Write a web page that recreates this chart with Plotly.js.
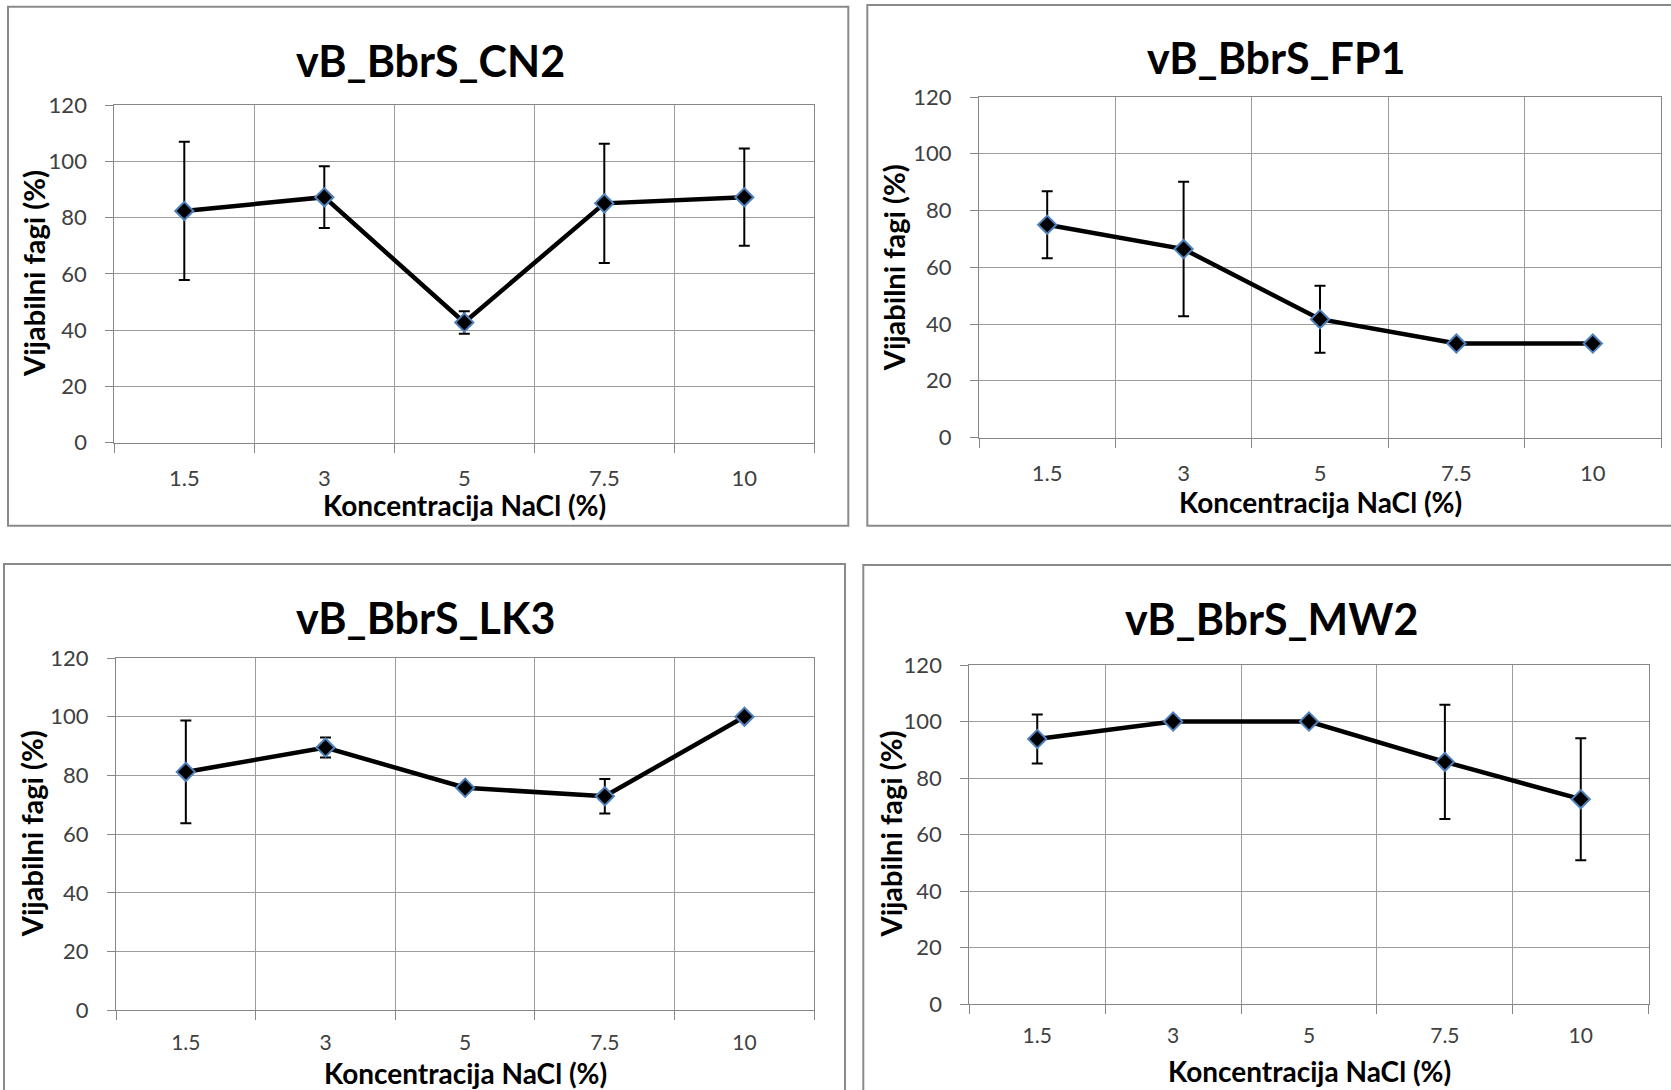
<!DOCTYPE html>
<html><head><meta charset="utf-8">
<script src="https://cdn.plot.ly/plotly-3.0.1.min.js"></script>
<style>html,body{margin:0;padding:0;background:#fff;} #chart{width:1671px;height:1090px;}</style>
</head><body><div id="chart"></div>
<script>
// ---- data ----
const concentrations = ['1.5', '3', '5', '7.5', '10'];
const cn2Values = [82.4, 87.3, 42.7, 85.1, 87.3];
const cn2Errors = [24.6, 11.0, 4.0, 21.2, 17.3];
const fp1Values = [75.0, 66.4, 41.7, 33.1, 33.1];
const fp1Errors = [11.8, 23.7, 11.8, 0, 0];
const lk3Values = [81.2, 89.5, 75.8, 72.9, 100];
const lk3Errors = [17.5, 3.4, 0, 5.9, 0];
const mw2Values = [93.8, 100, 100, 85.7, 72.5];
const mw2Errors = [8.7, 0, 0, 20.2, 21.6];
const chartTitles = ['vB_BbrS_CN2', 'vB_BbrS_FP1', 'vB_BbrS_LK3', 'vB_BbrS_MW2'];
const xAxisTitle = 'Koncentracija NaCl (%)';
const yAxisTitle = 'Vijabilni fagi (%)';
const yTickValues = [0, 20, 40, 60, 80, 100, 120];

const seriesValues = [cn2Values, fp1Values, lk3Values, mw2Values];
const seriesErrors = [cn2Errors, fp1Errors, lk3Errors, mw2Errors];

// ---- layout geometry (pixels) ----
const W = 1671, H = 1090;
const panels = [
  {plot: [114.3, 814.3, 105.3, 442.5], frame: [8, 848.3, 6.7, 525.7], titleX: 430, titleY: 60, xTitleY: 505, yTitleX: 34, tickStand: 16, tickSize: 22},
  {plot: [979, 1661, 97, 437.5], frame: [867.3, 1690, 5, 525.7], titleX: 1276, titleY: 58, xTitleY: 502, yTitleX: 893, tickStand: 16, tickSize: 22},
  {plot: [116, 814.3, 658, 1010.3], frame: [4, 845, 564, 1110], titleX: 425, titleY: 617, xTitleY: 1073, yTitleX: 31, tickStand: 13, tickSize: 21},
  {plot: [969.3, 1648.7, 665, 1004], frame: [863.3, 1690, 565, 1110], titleX: 1271, titleY: 618, xTitleY: 1071, yTitleX: 890, tickStand: 13, tickSize: 21}
];
const px = v => v / W;
const py = v => 1 - v / H;

const FONT = 'Lato, "Open Sans", sans-serif';
const gridDark = '#9c9c9c';
const gridLight = '#d2d2d2';
const axisColor = '#868686';

const traces = [];
const layout = {
  width: W, height: H,
  margin: {l: 0, r: 0, t: 0, b: 0},
  paper_bgcolor: '#ffffff', plot_bgcolor: '#ffffff',
  showlegend: false,
  annotations: [], shapes: []
};

panels.forEach((p, i) => {
  const n = i + 1;
  const xs = n === 1 ? '' : String(n);
  const xName = 'x' + xs, yName = 'y' + xs;
  const xDom = [px(p.plot[0]), px(p.plot[1])];
  const yDom = [py(p.plot[3]), py(p.plot[2])];

  traces.push({
    type: 'scatter', mode: 'lines+markers',
    x: concentrations, y: seriesValues[i],
    xaxis: xName, yaxis: yName,
    line: {color: '#000000', width: 4.5},
    marker: {symbol: 'diamond', size: 14, color: '#000000', line: {color: '#4f81bd', width: 2}},
    error_y: {type: 'data', array: seriesErrors[i], visible: true, color: '#000000', thickness: 2, width: 5.5},
    hoverinfo: 'x+y'
  });

  layout['xaxis' + xs] = {
    domain: xDom, anchor: yName,
    type: 'category', range: [-0.5, 4.5],
    tickson: 'boundaries', ticks: 'outside', ticklen: 9, tickwidth: 1, tickcolor: axisColor,
    showgrid: true, gridcolor: gridDark, gridwidth: 1,
    showline: true, linecolor: axisColor, linewidth: 1, mirror: true,
    zeroline: false,
    tickfont: {family: FONT, size: p.tickSize, color: '#404040'},
    ticklabelstandoff: p.tickStand,
    fixedrange: true
  };
  layout['yaxis' + xs] = {
    domain: yDom, anchor: xName,
    range: [0, 120], tickmode: 'array', tickvals: yTickValues,
    ticks: 'outside', ticklen: 8, tickwidth: 1, tickcolor: axisColor,
    showgrid: true, gridcolor: gridDark, gridwidth: 1,
    showline: true, linecolor: axisColor, linewidth: 1, mirror: true,
    zeroline: false,
    tickfont: {family: FONT, size: 22, color: '#404040'},
    ticklabelstandoff: 14,
    fixedrange: true
  };
  // overlay axis for the gridlines through the category centres
  layout['xaxis' + (n + 4)] = {
    overlaying: xName, anchor: yName,
    type: 'linear', range: [-0.5, 4.5], tick0: 0, dtick: 1,
    showgrid: true, gridcolor: gridLight, gridwidth: 1,
    showticklabels: false, ticks: '', showline: false, zeroline: false,
    fixedrange: true
  };

  layout.shapes.push({
    type: 'rect', xref: 'paper', yref: 'paper', layer: 'below',
    x0: px(p.frame[0]), x1: px(p.frame[1]), y0: py(p.frame[3]), y1: py(p.frame[2]),
    line: {color: '#8a8a8a', width: 2}, fillcolor: 'rgba(0,0,0,0)'
  });

  layout.annotations.push({
    xref: 'paper', yref: 'paper', x: px(p.titleX), y: py(p.titleY),
    xanchor: 'center', yanchor: 'middle', showarrow: false,
    text: '<b>' + chartTitles[i] + '</b>',
    font: {family: FONT, size: 43, color: '#000000'}
  });
  layout.annotations.push({
    xref: 'paper', yref: 'paper', x: (xDom[0] + xDom[1]) / 2, y: py(p.xTitleY),
    xanchor: 'center', yanchor: 'middle', showarrow: false,
    text: '<b>' + xAxisTitle + '</b>',
    font: {family: FONT, size: 28, color: '#000000'}
  });
  layout.annotations.push({
    xref: 'paper', yref: 'paper', x: px(p.yTitleX), y: (yDom[0] + yDom[1]) / 2,
    xanchor: 'center', yanchor: 'middle', showarrow: false, textangle: -90,
    text: '<b>' + yAxisTitle + '</b>',
    font: {family: FONT, size: 29, color: '#000000'}
  });
});

Plotly.newPlot('chart', traces, layout, {displayModeBar: false, staticPlot: true});
</script>
</body></html>
